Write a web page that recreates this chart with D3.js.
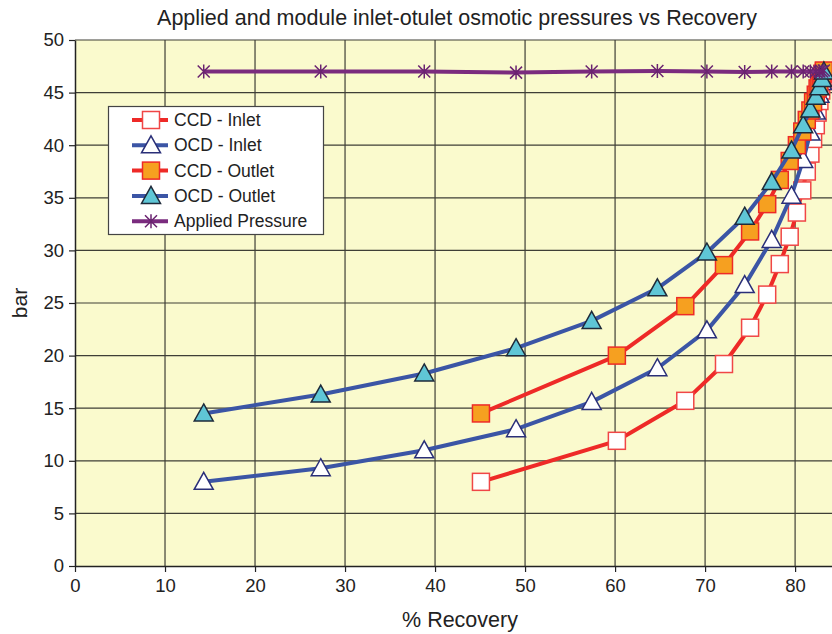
<!DOCTYPE html>
<html><head><meta charset="utf-8">
<script src="https://cdn.jsdelivr.net/npm/d3@7"></script>
<style>body{margin:0;background:#fff}svg{display:block;font-family:"Liberation Sans",Arial,sans-serif}</style>
</head><body><div id="chart"></div>
<script>
const title = "Applied and module inlet-otulet osmotic pressures vs Recovery";
const xTicks = [0,10,20,30,40,50,60,70,80];
const yTicks = [0,5,10,15,20,25,30,35,40,45,50];

const ocdRecovery = [14.3, 27.3, 38.8, 49.0, 57.4, 64.7, 70.2, 74.4, 77.4, 79.6, 80.9, 81.7, 82.3, 82.7, 83.0, 83.2];
const appliedPressure = [47.0, 47.0, 47.0, 46.9, 47.0, 47.05, 47.0, 46.95, 47.0, 47.0, 47.0, 47.0, 47.0, 47.0, 47.0, 47.1];
const ocdInlet = [8.0, 9.3, 11.0, 13.0, 15.6, 18.8, 22.4, 26.7, 31.0, 35.2, 38.6, 41.2, 43.2, 44.8, 46.0, 47.0];
const ocdOutlet = [14.5, 16.3, 18.3, 20.7, 23.3, 26.4, 29.8, 33.2, 36.5, 39.5, 41.9, 43.4, 44.6, 45.5, 46.3, 47.0];

const ccdRecovery = [45.1, 60.2, 67.8, 72.1, 75.0, 76.9, 78.3, 79.4, 80.2, 80.8, 81.3, 81.7, 82.0, 82.3, 82.5, 82.7, 82.9, 83.05, 83.2];
const ccdInlet = [8.0, 11.9, 15.7, 19.2, 22.65, 25.8, 28.7, 31.3, 33.6, 35.7, 37.5, 39.2, 40.6, 41.9, 43.1, 44.2, 45.2, 46.1, 47.0];
const ccdOutlet = [14.5, 20.0, 24.7, 28.6, 31.8, 34.4, 36.7, 38.5, 40.0, 41.3, 42.4, 43.3, 44.1, 44.8, 45.4, 45.9, 46.4, 46.8, 47.1];

const seriesNames = ["CCD - Inlet","OCD - Inlet","CCD - Outlet","OCD - Outlet","Applied Pressure"];

const W = 832, H = 634;
const svg = d3.select("#chart").append("svg").attr("width", W).attr("height", H);
const x = d3.scaleLinear().domain([0, 84.1]).range([75, 832]);
const y = d3.scaleLinear().domain([0, 50]).range([566, 40]);

const RED = "#ee2a27", BLUE = "#3b55a5", PURPLE = "#7a2b7e";
const series = [
  {name: seriesNames[0], xs: ccdRecovery, ys: ccdInlet, line: RED, shape: "square", fill: "#ffffff", stroke: "#f04646"},
  {name: seriesNames[1], xs: ocdRecovery, ys: ocdInlet, line: BLUE, shape: "triangle", fill: "#ffffff", stroke: "#2a2f78"},
  {name: seriesNames[2], xs: ccdRecovery, ys: ccdOutlet, line: RED, shape: "square", fill: "#f6a020", stroke: "#ee2a27"},
  {name: seriesNames[3], xs: ocdRecovery, ys: ocdOutlet, line: BLUE, shape: "triangle", fill: "#5fc6d6", stroke: "#1e2a3a"},
  {name: seriesNames[4], xs: ocdRecovery, ys: appliedPressure, line: PURPLE, shape: "star", fill: "none", stroke: "#6a2370"}
];

// plot background
svg.append("rect").attr("x", x(0)).attr("y", y(50)).attr("width", x(84.1) - x(0)).attr("height", y(0) - y(50)).attr("fill", "#fafacd");

// grid
const grid = svg.append("g");
grid.selectAll("line.vx").data(xTicks.slice(1)).join("line")
  .attr("x1", d => x(d)).attr("x2", d => x(d)).attr("y1", y(0)).attr("y2", y(50))
  .attr("stroke", "#3e3e36").attr("stroke-width", 1.2);
grid.selectAll("line.hy").data(yTicks.slice(1)).join("line")
  .attr("x1", x(0)).attr("x2", 832).attr("y1", d => y(d)).attr("y2", d => y(d))
  .attr("stroke", "#3e3e36").attr("stroke-width", 1.2);

// axes
const xAxis = d3.axisBottom(x).tickValues(xTicks).tickSize(6).tickSizeOuter(0);
const yAxis = d3.axisLeft(y).tickValues(yTicks).tickSize(6).tickSizeOuter(0);
const gx = svg.append("g").attr("transform", `translate(0,${y(0)})`).call(xAxis);
const gy = svg.append("g").attr("transform", `translate(${x(0)},0)`).call(yAxis);
[gx, gy].forEach(g => {
  g.select(".domain").attr("stroke", "#222").attr("stroke-width", 1.5);
  g.selectAll(".tick line").attr("stroke", "#222").attr("stroke-width", 1.2);
  g.selectAll(".tick text").attr("font-size", 18.5).attr("fill", "#222").attr("font-family", "Liberation Sans, Arial, sans-serif");
});
gx.selectAll(".tick text").attr("dy", "0.9em");
gy.selectAll(".tick text").attr("dx", "-2px");

// series
const lineGen = d3.line().x(d => x(d[0])).y(d => y(d[1]));
function drawMarker(g, shape, fill, stroke) {
  if (shape === "square") {
    g.append("rect").attr("x", -8.5).attr("y", -8.5).attr("width", 17).attr("height", 17)
      .attr("fill", fill).attr("stroke", stroke).attr("stroke-width", 1.5);
  } else if (shape === "triangle") {
    g.append("path").attr("d", "M0,-9.5 L9.5,7.5 L-9.5,7.5 Z")
      .attr("fill", fill).attr("stroke", stroke).attr("stroke-width", 1.5);
  } else {
    g.append("path").attr("d", "M-6,-6 L6,6 M-6,6 L6,-6 M0,-7 L0,7")
      .attr("fill", "none").attr("stroke", stroke).attr("stroke-width", 1.5);
  }
}
const plot = svg.append("g");
series.forEach(s => {
  const pts = s.xs.map((v, i) => [v, s.ys[i]]);
  const g = plot.append("g");
  g.append("path").attr("d", lineGen(pts)).attr("fill", "none")
    .attr("stroke", s.line).attr("stroke-width", 4).attr("stroke-linejoin", "round");
  pts.forEach(p => {
    const m = g.append("g").attr("transform", `translate(${x(p[0])},${y(p[1])})`);
    drawMarker(m, s.shape, s.fill, s.stroke);
  });
});

// title & labels
svg.append("text").attr("x", 457).attr("y", 25).attr("text-anchor", "middle")
  .attr("font-size", 21.5).attr("fill", "#222").text(title);
svg.append("text").attr("x", 460).attr("y", 627).attr("text-anchor", "middle")
  .attr("font-size", 21.5).attr("fill", "#222").text("% Recovery");
svg.append("text").attr("transform", "translate(27,303) rotate(-90)").attr("text-anchor", "middle")
  .attr("font-size", 21).attr("fill", "#222").text("bar");

// legend
const lg = svg.append("g");
lg.append("rect").attr("x", 108.5).attr("y", 106.5).attr("width", 215).attr("height", 128)
  .attr("fill", "#ffffff").attr("stroke", "#444").attr("stroke-width", 1.2);
series.forEach((s, i) => {
  const yy = 120 + i * 25.3;
  lg.append("line").attr("x1", 132).attr("x2", 168).attr("y1", yy).attr("y2", yy)
    .attr("stroke", s.line).attr("stroke-width", 4);
  const m = lg.append("g").attr("transform", `translate(151,${yy})`);
  drawMarker(m, s.shape, s.fill, s.stroke);
  lg.append("text").attr("x", 174).attr("y", yy).attr("dy", "0.35em")
    .attr("font-size", 17.5).attr("fill", "#222").text(s.name);
});
</script></body></html>
